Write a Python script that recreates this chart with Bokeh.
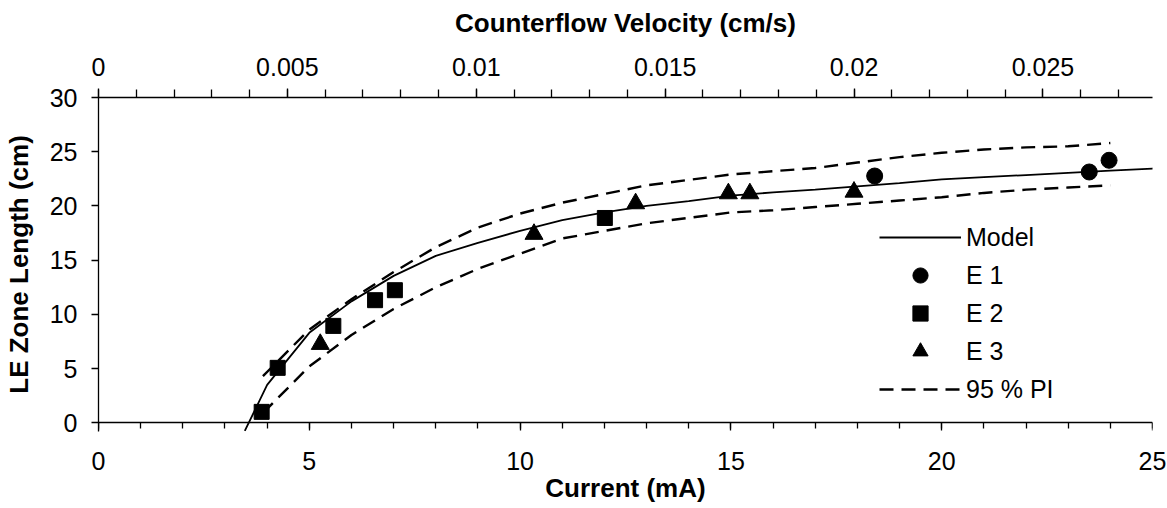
from bokeh.plotting import figure
from bokeh.models import (Range1d, LinearAxis, SingleIntervalTicker, CustomJSTickFormatter,
                          Legend, LegendItem)
from bokeh.embed import file_html
from bokeh.resources import INLINE

# ---- data ----
model_x = [3.47, 4.0, 5.0, 6.0, 7.0, 8.0, 9.0, 10.0, 11.0, 12.0, 13.0, 14.0, 15.0, 16.0,
           17.0, 18.0, 19.0, 20.0, 21.0, 22.0, 23.0, 24.0, 25.0, 25.5]
model_y = [-0.75, 3.5, 8.3, 11.2, 13.55, 15.4, 16.6, 17.7, 18.7, 19.4, 20.0, 20.45, 20.95, 21.25,
           21.5, 21.8, 22.1, 22.45, 22.65, 22.85, 23.05, 23.25, 23.45, 23.55]

pi_x = [3.9, 5.0, 6.0, 7.0, 8.0, 9.0, 10.0, 11.0, 12.0, 13.0, 14.0, 15.0, 16.0, 17.0,
        18.0, 19.0, 20.0, 21.0, 22.0, 23.0, 24.0]
pi_upper = [4.3, 8.6, 11.4, 13.9, 16.2, 18.0, 19.3, 20.3, 21.1, 21.9, 22.4, 22.9, 23.2, 23.5,
            24.0, 24.5, 24.9, 25.2, 25.4, 25.5, 25.8]
pi_lower = [0.9, 5.2, 8.1, 10.5, 12.5, 14.2, 15.6, 17.0, 17.7, 18.4, 18.9, 19.4, 19.6, 19.9,
            20.2, 20.5, 20.8, 21.2, 21.5, 21.7, 21.9]

e1_x = [18.41, 23.50, 23.97]
e1_y = [22.76, 23.13, 24.21]
e2_x = [3.87, 4.25, 5.57, 6.56, 7.03, 12.01]
e2_y = [1.01, 5.07, 8.94, 11.31, 12.23, 18.89]
e3_x = [5.26, 10.33, 12.74, 14.94, 15.45, 17.92]
e3_y = [7.25, 17.40, 20.22, 21.14, 21.14, 21.29]

x_ticks_interval = 5
y_ticks_interval = 5
vel_end = 0.0279  # counterflow velocity at 25 mA

FONT = "Liberation Sans"
FS = "25px"
TFS = "26px"

p = figure(width=1167, height=508, x_range=Range1d(0, 25), y_range=Range1d(-0.8, 30),
           output_backend="svg", toolbar_location=None,
           x_axis_location=None, y_axis_location=None,
           min_border_left=98, min_border_right=15, min_border_top=97, min_border_bottom=77)
p.outline_line_color = None
p.xgrid.visible = False
p.ygrid.visible = False
p.extra_x_ranges = {"vel": Range1d(0, vel_end)}


def style(ax):
    ax.axis_line_color = "black"
    ax.axis_line_width = 1.3
    ax.major_tick_line_color = "black"
    ax.major_tick_line_width = 1.3
    ax.minor_tick_line_color = "black"
    ax.minor_tick_line_width = 1.3
    ax.major_tick_in = 0
    ax.minor_tick_in = 0
    ax.major_label_text_font = FONT
    ax.major_label_text_font_size = FS
    ax.major_label_text_color = "black"
    ax.axis_label_text_font = FONT
    ax.axis_label_text_font_size = TFS
    ax.axis_label_text_font_style = "bold"
    ax.axis_label_text_color = "black"


# bottom axis line + ticks crossing at y = 0
xb = LinearAxis(ticker=SingleIntervalTicker(interval=x_ticks_interval, num_minor_ticks=5),
                fixed_location=0)
style(xb)
xb.major_tick_out = 8
xb.minor_tick_out = 6
xb.major_label_text_alpha = 0
p.add_layout(xb, "below")

# bottom labels + title
xl = LinearAxis(ticker=SingleIntervalTicker(interval=x_ticks_interval, num_minor_ticks=0),
                axis_label="Current (mA)")
style(xl)
xl.axis_line_color = None
xl.major_tick_line_color = None
xl.minor_tick_line_color = None
xl.major_tick_out = 0
xl.minor_tick_out = 0
xl.major_label_standoff = 20
xl.axis_label_standoff = 0
p.add_layout(xl, "below")

# left axis
yl = LinearAxis(ticker=SingleIntervalTicker(interval=y_ticks_interval, num_minor_ticks=0),
                axis_label="LE Zone Length (cm)")
style(yl)
yl.major_tick_out = 7
yl.minor_tick_out = 0
yl.minor_tick_line_color = None
yl.major_label_standoff = 14
yl.axis_label_standoff = 13
p.add_layout(yl, "left")

# top axis: counterflow velocity
xt = LinearAxis(x_range_name="vel",
                ticker=SingleIntervalTicker(interval=0.005, num_minor_ticks=5),
                axis_label="Counterflow Velocity (cm/s)",
                formatter=CustomJSTickFormatter(code="return tick.toFixed(3).replace(/\\.?0+$/, '');"))
style(xt)
xt.major_tick_out = 9
xt.minor_tick_out = 8
xt.major_label_standoff = 13
xt.axis_label_standoff = 17
p.add_layout(xt, "above")

dash = "14 8"
r_model = p.line(model_x, model_y, line_color="black", line_width=1.8)
r_up = p.line(pi_x, pi_upper, line_color="black", line_width=2.4, line_dash=dash)
r_lo = p.line(pi_x, pi_lower, line_color="black", line_width=2.4, line_dash=dash)
r1 = p.scatter(e1_x, e1_y, marker="circle", size=16, fill_color="black", line_color="black")
r2 = p.scatter(e2_x, e2_y, marker="square", size=15, fill_color="black", line_color="black")
r3 = p.scatter(e3_x, e3_y, marker="triangle", size=18, fill_color="black", line_color="black")

legend = Legend(items=[
    LegendItem(label="Model", renderers=[r_model]),
    LegendItem(label="E 1", renderers=[r1]),
    LegendItem(label="E 2", renderers=[r2]),
    LegendItem(label="E 3", renderers=[r3]),
    LegendItem(label="95 % PI", renderers=[r_up]),
], location=(781, 23), orientation="vertical")
legend.glyph_width = 82
legend.glyph_height = 38
legend.label_height = 30
legend.spacing = 0
legend.padding = 0
legend.margin = 0
legend.label_standoff = 5
legend.label_text_font = FONT
legend.label_text_font_size = FS
legend.label_text_color = "black"
legend.border_line_color = None
legend.background_fill_alpha = 0
p.add_layout(legend, "center")

open("out.html", "w").write(file_html(p, INLINE))
